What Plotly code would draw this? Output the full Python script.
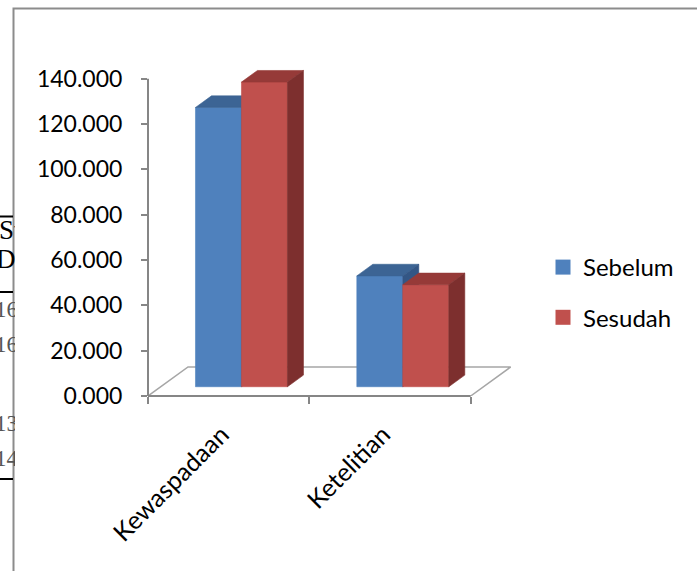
import plotly.graph_objects as go

# ---------------- data ----------------
categories = ["Kewaspadaan", "Ketelitian"]
series_names = ["Sebelum", "Sesudah"]
sebelum = [123.2, 48.9]
sesudah = [134.4, 45.0]
y_tick_values = [0, 20, 40, 60, 80, 100, 120, 140]
y_tick_labels = ["0.000", "20.000", "40.000", "60.000", "80.000", "100.000", "120.000", "140.000"]
side_fragments = ["St", "D", "16", "16", "13", "14"]

# ---------------- styles / geometry ----------------
FONT = "Lato"
front_colors = ["#4F81BD", "#C0504D"]
top_colors = ["#3C6494", "#963A38"]
side_colors = ["#335685", "#7D2F2E"]
BAR_W = 0.285          # width of one bar (category units)
FLOOR_DX = 0.248       # depth offset of floor in x units
FLOOR_DY = 12.8        # depth offset of floor in value units
F0, F1 = 0.32, 0.72    # bar front/back depth fractions

L, T, W, H = 148, 56, 363, 340
XR = [0, 2.25]
YR = [0, 150]


def px_to_paper_x(px):
    return (px - L) / W


def px_to_paper_y(py):
    return (T + H - py) / H


fig = go.Figure()

# floor outline (left, back, right edges)
n_cat = len(categories)
fig.add_trace(go.Scatter(
    x=[0, FLOOR_DX, n_cat + FLOOR_DX, n_cat],
    y=[0, FLOOR_DY, FLOOR_DY, 0],
    mode="lines", line=dict(color="#A6A6A6", width=1.5),
    showlegend=False, hoverinfo="skip"))

bx = F0 * FLOOR_DX
by = F0 * FLOOR_DY
ddx = (F1 - F0) * FLOOR_DX
ddy = (F1 - F0) * FLOOR_DY

series = [sebelum, sesudah]
for ci in range(n_cat):
    c = ci + 0.5
    for si, vals in enumerate(series):
        v = vals[ci]
        x0 = c + bx - BAR_W + si * BAR_W
        x1 = x0 + BAR_W
        b = by
        top = b + v
        faces = [
            ([x0, x1, x1, x0, x0], [b, b, top, top, b], front_colors[si]),
            ([x0, x1, x1 + ddx, x0 + ddx, x0], [top, top, top + ddy, top + ddy, top], top_colors[si]),
            ([x1, x1 + ddx, x1 + ddx, x1, x1], [b, b + ddy, top + ddy, top, b], side_colors[si]),
        ]
        for fx, fy, col in faces:
            fig.add_trace(go.Scatter(
                x=fx, y=fy, mode="lines", fill="toself", fillcolor=col,
                line=dict(color=col, width=0.6),
                showlegend=False, hoverinfo="skip"))

# legend entries
for si, name in enumerate(series_names):
    fig.add_trace(go.Scatter(
        x=[None], y=[None], mode="markers", name=name,
        legendgroup=name,
        marker=dict(symbol="square", size=15, color=front_colors[si])))

shapes = [
    # y axis line
    dict(type="line", xref="paper", yref="y", x0=0, x1=0, y0=0, y1=y_tick_values[-1],
         line=dict(color="#868686", width=2)),
    # front floor edge (x axis line)
    dict(type="line", xref="x", yref="paper", x0=0, x1=n_cat, y0=0, y1=0,
         line=dict(color="#868686", width=2)),
    # chart frame
    dict(type="rect", xref="paper", yref="paper",
         x0=px_to_paper_x(13.5), x1=px_to_paper_x(705),
         y0=px_to_paper_y(580), y1=px_to_paper_y(8.5),
         line=dict(color="#8C8C8C", width=2), layer="below"),
]
# background document table lines on the left
for py in [216.5, 292, 479]:
    shapes.append(dict(type="line", xref="paper", yref="paper",
                       x0=px_to_paper_x(0), x1=px_to_paper_x(13),
                       y0=px_to_paper_y(py), y1=px_to_paper_y(py),
                       line=dict(color="#000000", width=2)))

frag_y = [230, 259, 309, 344, 423, 458]
frag_x = [-2, -5, -6, -6, -6, -6]
frag_col = ["#000", "#000", "#555", "#555", "#555", "#555"]
frag_size = [27, 27, 23, 23, 23, 23]
annotations = []
for txt, px, py, col, fs in zip(side_fragments, frag_x, frag_y, frag_col, frag_size):
    annotations.append(dict(
        text=txt, xref="paper", yref="paper",
        x=px_to_paper_x(px), y=px_to_paper_y(py),
        xanchor="left", yanchor="middle", align="left",
        width=14 - px, borderpad=0, showarrow=False,
        font=dict(family="Liberation Serif", size=fs, color=col)))

fig.update_layout(
    width=697, height=571,
    margin=dict(l=L, r=697 - L - W, t=T, b=571 - T - H, pad=0),
    paper_bgcolor="white", plot_bgcolor="white",
    shapes=shapes, annotations=annotations,
    xaxis=dict(
        range=XR, showgrid=False, zeroline=False, showline=False,
        tickvals=[i + 0.5 for i in range(n_cat)], ticktext=categories,
        ticks="", tickangle=-45, ticklabelstandoff=18, ticklabelshift=-7,
        tickfont=dict(family=FONT, size=25, color="#000"),
        minor=dict(tickvals=list(range(n_cat + 1)), ticks="outside",
                   ticklen=7, tickwidth=2, tickcolor="#868686"),
    ),
    yaxis=dict(
        range=YR, showgrid=False, zeroline=False, showline=False,
        tickvals=y_tick_values, ticktext=y_tick_labels,
        ticks="outside", ticklen=6, tickwidth=2, tickcolor="#868686",
        ticklabelstandoff=14,
        tickfont=dict(family=FONT, size=23, color="#000"),
    ),
    legend=dict(
        x=px_to_paper_x(543), y=px_to_paper_y(292.5),
        xanchor="left", yanchor="middle",
        font=dict(family=FONT, size=24, color="#000"),
        traceorder="grouped", tracegroupgap=16, itemsizing="trace",
        bgcolor="rgba(0,0,0,0)",
    ),
    showlegend=True,
)

fig.write_html("out.html")
